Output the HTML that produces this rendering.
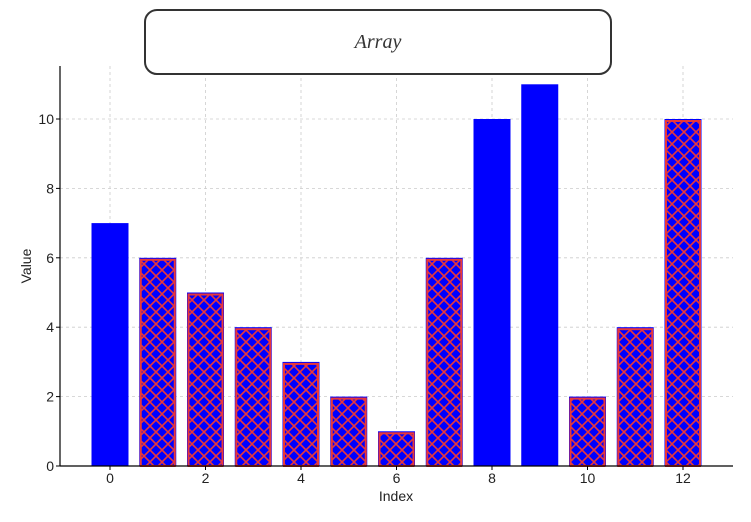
<!DOCTYPE html>
<html><head><meta charset="utf-8"><style>
body{margin:0;background:#fff;font-family:"Liberation Sans",sans-serif}
svg{display:block}
</style></head><body>
<svg id="chart" width="751" height="522" viewBox="0 0 751 522">
<defs>
<pattern id="hatch" patternUnits="userSpaceOnUse" width="12" height="12">
<path d="M0,0 L12,12 M12,0 L0,12" stroke="#e8383a" stroke-width="1.6"/>
</pattern>
</defs>
<g id="grid"></g>
<g id="bars"></g>
<g id="axes"></g>
<rect x="145" y="10" width="466" height="64" rx="12" fill="#fff" stroke="#333" stroke-width="2"/>
<text x="378" y="48" text-anchor="middle" font-family="'Liberation Serif',serif" font-style="italic" font-size="20" fill="#333">Array</text>
<text x="396" y="501" text-anchor="middle" font-size="14" fill="#222">Index</text>
<text x="31" y="266" text-anchor="middle" font-size="14" fill="#222" transform="rotate(-90 31 266)">Value</text>
</svg>
<script>
const categories=[0,1,2,3,4,5,6,7,8,9,10,11,12];
const values=[7,6,5,4,3,2,1,6,10,11,2,4,10];
const hatched=[false,true,true,true,true,true,true,true,false,false,true,true,true];
const yTicks=[0,2,4,6,8,10];
const xTicks=[0,2,4,6,8,10,12];
const NS="http://www.w3.org/2000/svg";
const X=i=>110+i*47.75;
const Y=v=>466-v*34.7;
const bw=37;
function mk(t,a,p){const e=document.createElementNS(NS,t);for(const k in a)e.setAttribute(k,a[k]);p.appendChild(e);return e;}
const grid=document.getElementById('grid'),bars=document.getElementById('bars'),axes=document.getElementById('axes');
yTicks.forEach(v=>{
 const l=mk('line',{x1:60,x2:733,y1:Y(v),y2:Y(v),stroke:'#ccc','stroke-dasharray':'3,3','stroke-width':0.8},grid);
 
 
 const t=mk('text',{x:54,y:Y(v)+5,'text-anchor':'end','font-size':14,fill:'#222'},axes);t.textContent=v;
 
 
 mk('line',{x1:56,x2:60,y1:Y(v),y2:Y(v),stroke:'#000'},axes);
});
xTicks.forEach(v=>{
 const l=mk('line',{x1:X(v),x2:X(v),y1:66,y2:466,stroke:'#ccc','stroke-dasharray':'3,3','stroke-width':0.8},grid);
 
 
 const t=mk('text',{x:X(v),y:483,'text-anchor':'middle','font-size':14,fill:'#222'},axes);t.textContent=v;
 
 
 mk('line',{x1:X(v),x2:X(v),y1:466,y2:470,stroke:'#000'},axes);
});
categories.forEach((c,i)=>{
 const x=X(c)-bw/2,y=Y(values[i]),h=466-y;
 const r=mk('rect',{x:x,y:y,width:bw,height:h,fill:'#0000ff'},bars);
 
 
 if(hatched[i]){
  const o=mk('rect',{x:x+1.5,y:y+2,width:bw-3,height:h-2,fill:'url(#hatch)',stroke:'#e8383a','stroke-width':2},bars);
  
  
 }
});
mk('line',{x1:60,x2:60,y1:66,y2:466,stroke:'#000','stroke-width':1.2},axes);
mk('line',{x1:60,x2:733,y1:466,y2:466,stroke:'#000','stroke-width':1.2},axes);
</script>
</body></html>
